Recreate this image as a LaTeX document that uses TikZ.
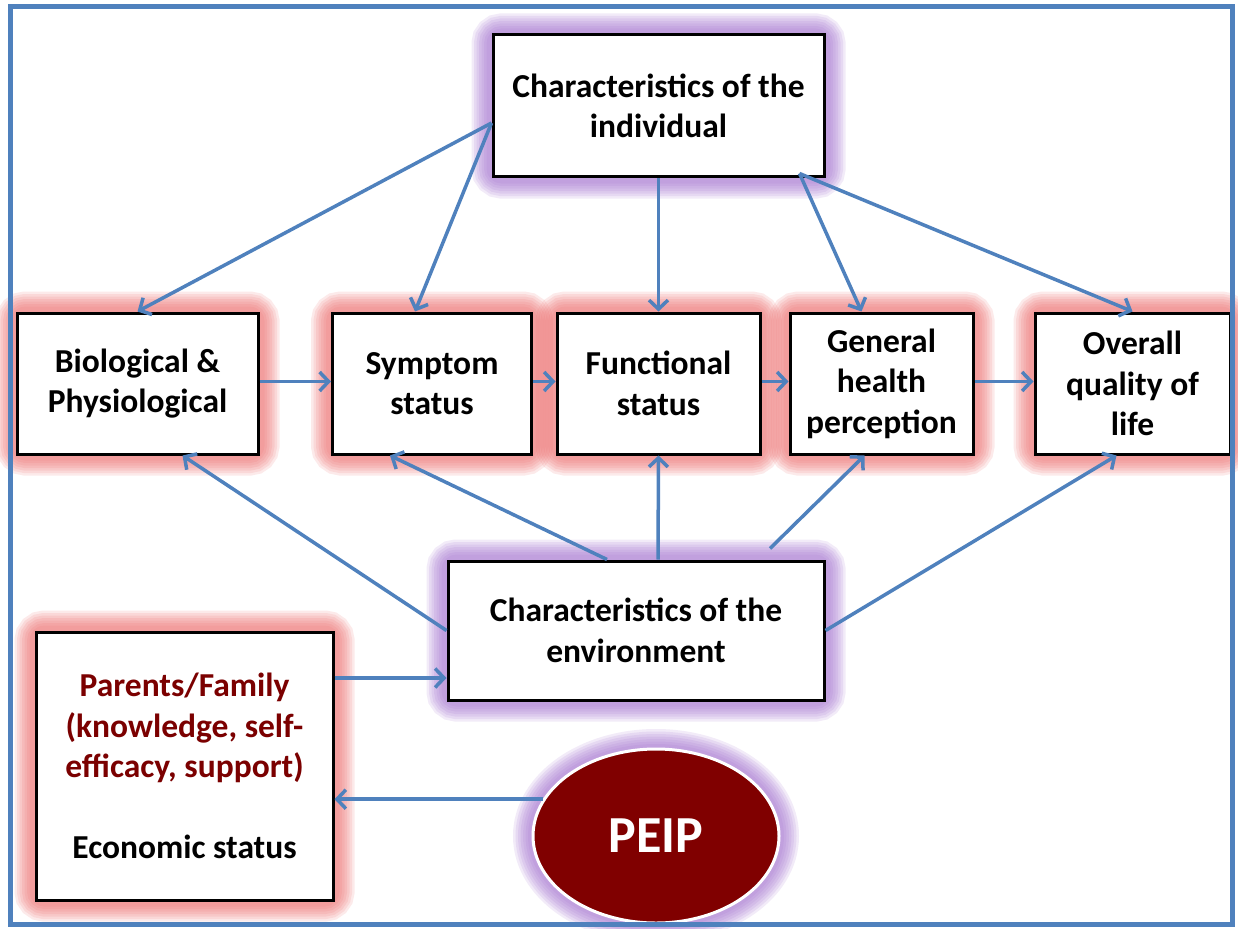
\documentclass[tikz,border=0pt]{standalone}
\usepackage{fontspec}
\setmainfont{Carlito}
\usetikzlibrary{arrows.meta,shapes.geometric,calc}
\pgfdeclarelayer{bg}
\pgfsetlayers{bg,main}
\definecolor{arrowblue}{RGB}{79,129,189}
\definecolor{glowred}{RGB}{235,105,105}
\definecolor{glowpurple}{RGB}{160,110,205}
\definecolor{peipred}{RGB}{128,0,0}
\definecolor{textred}{RGB}{123,0,0}
\begin{document}
\begin{tikzpicture}[x=1pt,y=-1pt,
  box/.style={draw=black,line width=3pt,fill=white,inner sep=0pt,align=center,
    font=\bfseries\fontsize{33.5}{40.5}\selectfont},
  conn/.style={draw=arrowblue,line width=3.5pt,
    -{Straight Barb[length=9pt,width=19pt,line width=3.5pt]}},
  redglow/.style={draw=glowred,opacity=0.14,rounded corners=10pt},
  purpleglow/.style={draw=glowpurple,opacity=0.14,rounded corners=10pt},
  peipstyle/.style={ellipse,fill=peipred,draw=white,line width=3pt,inner sep=0pt,
    text=white,font=\bfseries\fontsize{52}{52}\selectfont}]
\useasboundingbox (0,0) rectangle (1238,928);

% nodes
\node[box,minimum width=331pt,minimum height=142pt] (ind) at (658.5,106) {Characteristics of the\\individual};
\node[box,minimum width=241pt,minimum height=141pt] (bio) at (137.5,383.5) {Biological \&\\Physiological};
\node[box,minimum width=199pt,minimum height=141pt] (sym) at (432,383.5) {Symptom\\status};
\node[box,minimum width=203pt,minimum height=141pt] (fun) at (658.5,383.5) {Functional\\status};
\node[box,minimum width=183pt,minimum height=141pt] (gen) at (881.5,383.5) {General\\health\\perception};
\node[box,minimum width=195pt,minimum height=141pt] (ovr) at (1132.5,383.5) {Overall\\quality of\\life};
\node[box,minimum width=376pt,minimum height=139pt] (env) at (636,630.5) {Characteristics of the\\environment};
\node[box,minimum width=297pt,minimum height=268pt] (par) at (184.5,766) {\textcolor{textred}{Parents/Family}\\\textcolor{textred}{(knowledge, self-}\\\textcolor{textred}{efficacy, support)}\\[40pt]Economic status};
\node[peipstyle,minimum width=246pt,minimum height=174pt] (peip) at (656,836) {\raisebox{-4pt}{PEIP}};

% glows
\begin{pgfonlayer}{bg}
  \foreach \n in {bio,sym,fun,gen,ovr,par}{
    \foreach \w in {40,35,30,25,20,15,10}{
      \draw[redglow,line width=\w pt] (\n.south west) rectangle (\n.north east);
    }
  }
  \foreach \n in {ind,env}{
    \foreach \w in {40,35,30,25,20,15,10}{
      \draw[purpleglow,line width=\w pt] (\n.south west) rectangle (\n.north east);
    }
  }
  \foreach \w in {40,35,30,25,20,15,10}{
    \draw[draw=glowpurple,opacity=0.14,line width=\w pt] (peip.center) ellipse [x radius=123pt,y radius=87pt];
  }
\end{pgfonlayer}

% connectors from individual
\draw[conn] ([yshift=-17pt]ind.west) -- (bio.north);
\draw[conn] ([yshift=-17pt]ind.west) -- ([xshift=-17pt]sym.north);
\draw[conn] (ind.south) -- (fun.north);
\draw[conn] ([xshift=-26pt,yshift=5pt]ind.south east) -- ([xshift=-20pt]gen.north);
\draw[conn] ([xshift=-26pt,yshift=5pt]ind.south east) -- (ovr.north);

% chain
\draw[conn] ([yshift=2pt]bio.east) -- ([yshift=2pt]sym.west);
\draw[conn] ([yshift=2pt]sym.east) -- ([yshift=2pt]fun.west);
\draw[conn] ([yshift=2pt]fun.east) -- ([yshift=2pt]gen.west);
\draw[conn] ([yshift=2pt]gen.east) -- ([yshift=2pt]ovr.west);

% connectors from environment
\draw[conn] (env.west) -- ([xshift=45pt]bio.south);
\draw[conn] ([xshift=-29pt]env.north) -- ([xshift=-42pt]sym.south);
\draw[conn] ([xshift=22pt]env.north) -- (fun.south);
\draw[conn] ([xshift=134pt,yshift=11pt]env.north) -- ([xshift=-17pt]gen.south);
\draw[conn] (env.east) -- ([xshift=-16pt]ovr.south);

% parents and PEIP
\coordinate (p1) at ([yshift=88pt]par.east);
\draw[conn] (p1) -- (p1 -| env.west);
\coordinate (p2) at (peip.162);
\draw[conn] (p2) -- (p2 -| par.east);

% outer frame
\draw[arrowblue,line width=5pt] (10,7) rectangle (1232,924);
\end{tikzpicture}
\end{document}
